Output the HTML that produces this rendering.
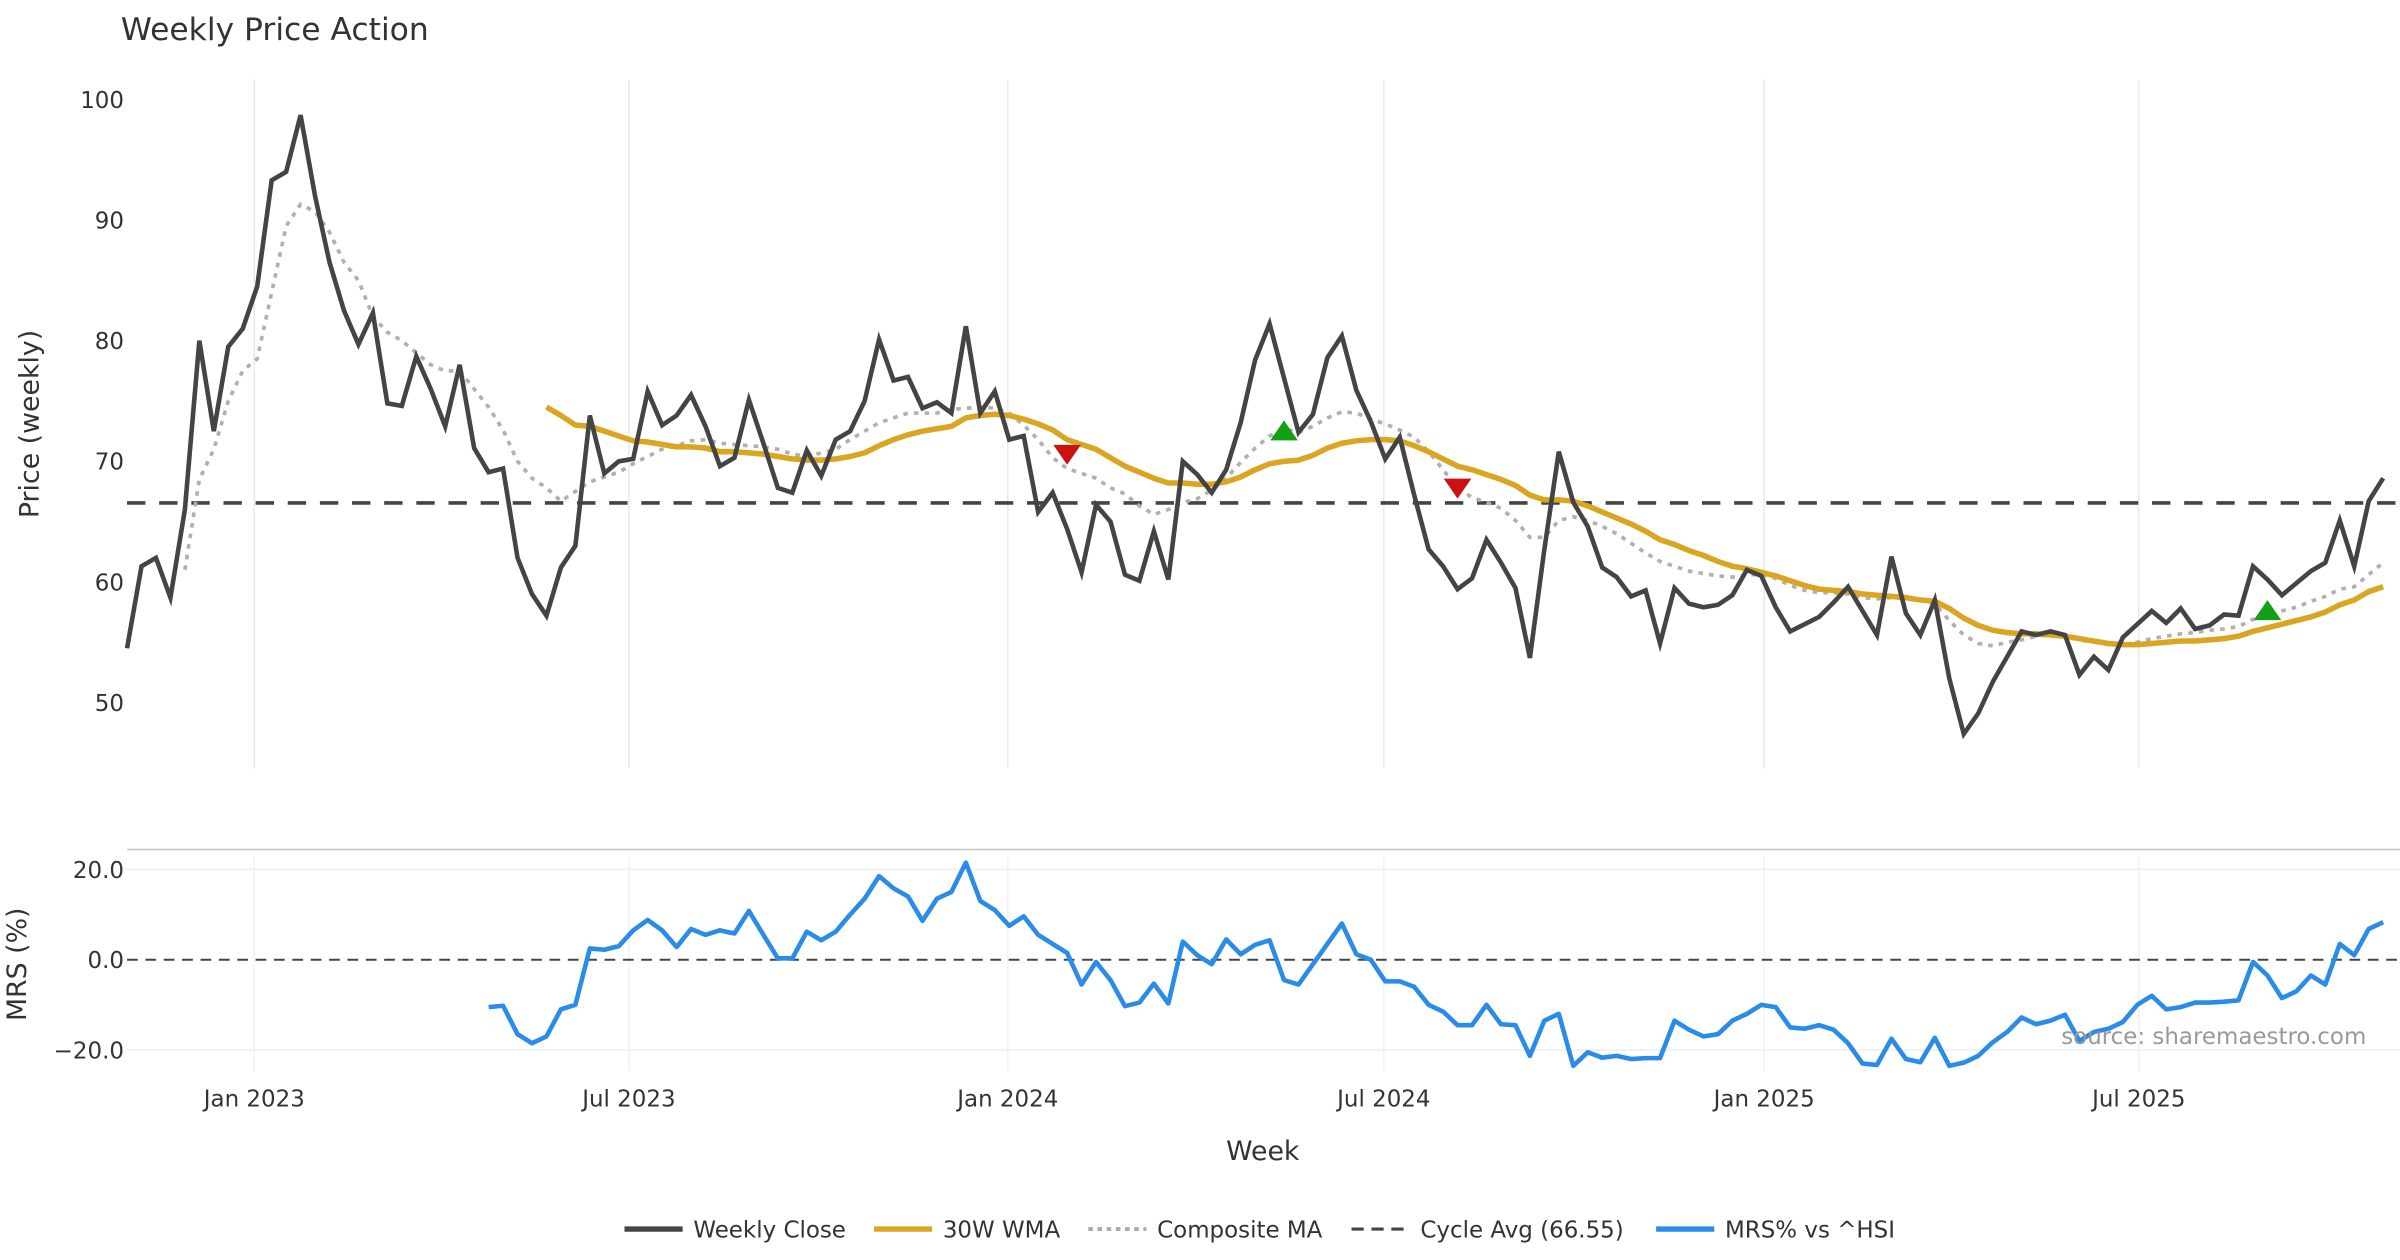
<!DOCTYPE html>
<html><head><meta charset="utf-8"><style>
html,body{margin:0;padding:0;background:#fff;}
svg{display:block;font-family:"DejaVu Sans","Liberation Sans",sans-serif;}
</style></head><body>
<svg id="chart" width="2400" height="1260" viewBox="0 0 1568 823.2" xmlns="http://www.w3.org/2000/svg">
<rect width="1568" height="823.2" fill="#fff"/>
<text x="79" y="26" font-size="20.5" fill="#333">Weekly Price Action</text>
<g id="grid"></g>
<g id="plot"></g>
<g id="axes"></g>
<text transform="translate(25,277) rotate(-90)" text-anchor="middle" font-size="17.5" fill="#333">Price (weekly)</text>
<text transform="translate(17,630) rotate(-90)" text-anchor="middle" font-size="17.5" fill="#333">MRS (%)</text>
<text x="825" y="758" text-anchor="middle" font-size="17.5" fill="#333">Week</text>
<text x="1546" y="682" text-anchor="end" font-size="15" fill="#999">source: sharemaestro.com</text>
<g id="legend">
<line x1="408" y1="803" x2="446" y2="803" stroke="#444" stroke-width="3.5"/>
<text x="453" y="808.5" font-size="15" fill="#333">Weekly Close</text>
<line x1="571" y1="803" x2="609" y2="803" stroke="#DAA520" stroke-width="3.5"/>
<text x="616" y="808.5" font-size="15" fill="#333">30W WMA</text>
<line x1="711" y1="803" x2="749" y2="803" stroke="#aaa" stroke-width="2.5" stroke-dasharray="3,3"/>
<text x="756" y="808.5" font-size="15" fill="#333">Composite MA</text>
<line x1="883" y1="803" x2="921" y2="803" stroke="#444" stroke-width="2" stroke-dasharray="8,5"/>
<text x="928" y="808.5" font-size="15" fill="#333">Cycle Avg (66.55)</text>
<line x1="1082" y1="803" x2="1120" y2="803" stroke="#2A8CE8" stroke-width="3.5"/>
<text x="1127" y="808.5" font-size="15" fill="#333">MRS% vs ^HSI</text>
</g>
</svg>
<script>
const closeVals=[54.5,61.3,62,58.7,66,80,72.5,79.5,81,84.5,93.3,94,98.7,92,86.5,82.5,79.7,82.3,74.8,74.6,78.7,76,72.9,78,71.1,69.1,69.4,62,59,57.2,61.2,63,73.8,69,70,70.2,75.8,73,73.8,75.5,72.9,69.6,70.3,75.1,71.5,67.8,67.4,70.9,68.8,71.8,72.5,75,80.1,76.7,77,74.4,74.9,74,81.2,74,75.8,71.8,72.1,65.8,67.4,64.4,60.8,66.4,65,60.6,60.1,64.2,60.2,70,68.9,67.4,69.3,73.2,78.4,81.4,76.9,72.4,73.9,78.6,80.4,75.9,73.3,70.2,72,67.2,62.7,61.3,59.4,60.3,63.5,61.6,59.5,53.7,62.7,70.8,66.6,64.6,61.2,60.4,58.8,59.3,54.9,59.5,58.2,57.9,58.1,58.9,61,60.5,57.9,55.9,56.5,57.1,58.3,59.6,57.6,55.6,62.1,57.4,55.6,58.5,52,47.4,49.1,51.7,53.8,55.9,55.6,55.9,55.6,52.3,53.8,52.7,55.4,56.5,57.6,56.6,57.8,56.1,56.4,57.3,57.2,61.3,60.2,58.9,59.9,60.9,61.6,65.1,61.3,66.7,68.6];
const wmaVals=[74.5,73.8,73,72.9,72.5,72.1,71.7,71.6,71.4,71.2,71.2,71.1,70.8,70.8,70.7,70.6,70.4,70.2,70.1,70.1,70.2,70.4,70.7,71.3,71.8,72.2,72.5,72.7,72.9,73.6,73.8,73.9,73.8,73.5,73.1,72.6,71.8,71.4,71,70.3,69.6,69.1,68.6,68.2,68.2,68.1,68.1,68.3,68.7,69.3,69.8,70,70.1,70.5,71.1,71.5,71.7,71.8,71.8,71.7,71.3,70.8,70.2,69.6,69.3,68.9,68.5,68,67.2,66.8,66.8,66.7,66.3,65.8,65.3,64.8,64.2,63.5,63.1,62.6,62.2,61.7,61.3,61.1,60.8,60.5,60.1,59.7,59.4,59.3,59.2,59,58.9,58.8,58.7,58.5,58.4,57.8,57,56.4,56,55.8,55.7,55.7,55.6,55.5,55.3,55.1,54.9,54.8,54.8,54.9,55,55.1,55.1,55.2,55.3,55.5,55.9,56.2,56.5,56.8,57.1,57.5,58.1,58.5,59.2,59.6];
const compVals=[61,68.5,71,75,77.5,78.5,84,89.5,91.3,90.7,89,86.5,85,82,80.7,80,79,78,77.5,77.5,76,74.5,72.6,70,68.6,67.8,66.7,67.5,68.3,68.7,69.1,69.8,70.4,71,71.3,71.7,71.8,71.5,71.4,71.3,71.2,71,70.6,70.4,70.7,71,71.8,72.5,73.2,73.6,74,74,74,74.3,74.4,74.5,74.4,74,73,71.8,70.3,69.4,69,68.6,67.8,67.3,66.3,65.6,66,66.6,66.9,67.6,68.6,69.9,71.1,72.1,72.7,72.4,72.9,73.6,74.1,74,73.5,73.1,72.6,72,70.8,69.3,67.8,67,66.6,66.1,65.1,63.7,63.7,65.1,65.4,65.1,64.6,64,63.2,62.4,61.7,61.3,60.9,60.7,60.5,60.4,60.6,60.6,60.3,59.7,59.3,59.1,59.1,59,58.7,58.6,58.7,58.6,58.5,58.2,56.8,55.6,54.9,54.7,55,55.2,55.5,55.6,55.5,55.2,55,54.8,54.7,55,55.3,55.5,55.7,55.8,56,56.1,56.3,56.9,57.3,57.6,57.9,58.4,58.8,59.4,59.6,60.6,61.6];
const mrsVals=[-10.5,-10.2,-16.5,-18.5,-17,-11,-10,2.5,2.2,3,6.5,8.8,6.5,2.8,6.8,5.5,6.5,5.8,10.8,5.5,0.3,0.3,6.2,4.3,6.2,10,13.5,18.5,15.8,14,8.6,13.5,15,21.5,13,11,7.5,9.6,5.5,3.5,1.5,-5.5,-0.5,-4.5,-10.3,-9.5,-5.3,-9.7,4,1,-1,4.5,1.2,3.3,4.3,-4.5,-5.5,-1,3.5,8,1.2,0,-4.8,-4.8,-6,-10,-11.5,-14.5,-14.5,-10,-14.3,-14.5,-21.3,-13.5,-12,-23.5,-20.5,-21.7,-21.3,-22,-21.8,-21.8,-13.5,-15.5,-17,-16.5,-13.5,-12,-10,-10.5,-15,-15.3,-14.5,-15.5,-18.5,-23,-23.3,-17.5,-22,-22.7,-17.3,-23.5,-22.8,-21.3,-18.3,-16,-12.8,-14.3,-13.5,-12.2,-18,-16,-15.3,-13.8,-10,-8,-11,-10.5,-9.5,-9.5,-9.3,-9,-0.5,-3.5,-8.5,-7,-3.5,-5.5,3.5,1,6.8,8.3];
const cycleAvg=66.55;
const sigIdx=[65,80,92,148];
const sigVals=[70.6,72.5,67.8,57.6];
const sigType=["sell","buy","sell","buy"];
const priceTicks=[50,60,70,80,90,100];
const mrsTicks=[-20,0,20];
const mrsTickLabels=["\u221220.0","0.0","20.0"];
const monthTicks=["Jan 2023","Jul 2023","Jan 2024","Jul 2024","Jan 2025","Jul 2025"];
const monthTickIdx=[8.8,34.7,60.9,86.9,113.2,139.1];

const NS="http://www.w3.org/2000/svg";
const N=closeVals.length;
const X0=83,X1=1557;
function xs(i){return X0+i*(X1-X0)/(N-1);}
function yp(v){return 459-(v-50)*7.88;}
function ym(v){return 627-v*2.95;}
function mk(parent,tag,attrs){const e=document.createElementNS(NS,tag);for(const k in attrs)e.setAttribute(k,attrs[k]);document.getElementById(parent).appendChild(e);return e;}
function pathOf(vals,yf){const off=N-vals.length;return vals.map((v,j)=>(j?"L":"M")+xs(off+j).toFixed(2)+","+yf(v).toFixed(2)).join("");}

monthTicks.forEach((t,k)=>{
  const x=xs(monthTickIdx[k]);
  const g=mk("grid","line",{x1:x,x2:x,y1:52,y2:502,stroke:"#e6e9ef","stroke-width":1});
  
  
  const g2=mk("grid","line",{x1:x,x2:x,y1:560,y2:700,stroke:"#f0f2f5","stroke-width":1});
  
  
  const tl=mk("axes","text",{x:x,y:723,"text-anchor":"middle","font-size":15,fill:"#333"});
  tl.textContent=t;
  
  
});
const sep=mk("grid","line",{x1:83,x2:1568,y1:555,y2:555,stroke:"#ccc","stroke-width":1.2});


priceTicks.forEach(v=>{
  const t=mk("axes","text",{x:81,y:yp(v)+5.5,"text-anchor":"end","font-size":15,fill:"#333"});
  t.textContent=v;
  
  
});
mrsTicks.forEach((v,k)=>{
  if(v!==0){const gl=mk("grid","line",{x1:83,x2:1568,y1:ym(v),y2:ym(v),stroke:"#eceef2","stroke-width":1});
  
  }
  const t=mk("axes","text",{x:81,y:ym(v)+5.5,"text-anchor":"end","font-size":15,fill:"#333"});
  t.textContent=mrsTickLabels[k];
  
  
});
const zl=mk("plot","line",{x1:83,x2:1568,y1:ym(0),y2:ym(0),stroke:"#444","stroke-width":1.3,"stroke-dasharray":"7,5"});


const ca=mk("plot","line",{x1:83,x2:1568,y1:yp(cycleAvg),y2:yp(cycleAvg),stroke:"#444","stroke-width":2.4,"stroke-dasharray":"12,9"});


const cm=mk("plot","path",{d:pathOf(compVals,yp),fill:"none",stroke:"#b0b0b0","stroke-width":2.4,"stroke-dasharray":"3,4"});


const wm=mk("plot","path",{d:pathOf(wmaVals,yp),fill:"none",stroke:"#DAA520","stroke-width":3.6,"stroke-linejoin":"round"});


const cl=mk("plot","path",{d:pathOf(closeVals,yp),fill:"none",stroke:"#444","stroke-width":3,"stroke-linejoin":"miter"});


const mr=mk("plot","path",{d:pathOf(mrsVals,ym),fill:"none",stroke:"#2A8CE8","stroke-width":3,"stroke-linejoin":"round"});


sigIdx.forEach((ix,k)=>{
  const x=xs(ix),y=yp(sigVals[k]);
  let d;
  if(sigType[k]==="sell"){d=`M${x-9},${y-6}L${x+9},${y-6}L${x},${y+7}Z`;}
  else{d=`M${x-9},${y+6}L${x+9},${y+6}L${x},${y-7}Z`;}
  const tri=mk("plot","path",{d:d,fill:sigType[k]==="sell"?"#CC1111":"#14A014"});
  
  
});
</script>
</body></html>
